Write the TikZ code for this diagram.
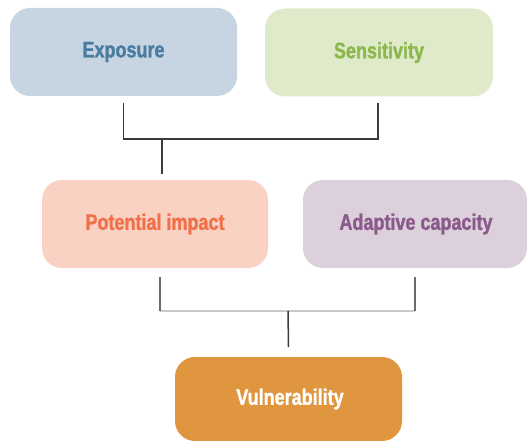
\documentclass[tikz,border=0pt]{standalone}
\usepackage{fontspec}
\setmainfont{Liberation Sans}[FakeStretch=0.8, FakeBold=1.2]
\definecolor{expfill}{HTML}{C6D5E1}
\definecolor{exptext}{HTML}{4A7BA0}
\definecolor{senfill}{HTML}{DFEACB}
\definecolor{sentext}{HTML}{8BB84A}
\definecolor{potfill}{HTML}{F9D2C4}
\definecolor{pottext}{HTML}{F0704A}
\definecolor{adafill}{HTML}{DCD0DC}
\definecolor{adatext}{HTML}{8A5A8A}
\definecolor{vulfill}{HTML}{E0963F}
\definecolor{linedark}{HTML}{3A3A3A}
\definecolor{linemid}{HTML}{6A6A6A}
\definecolor{linelight}{HTML}{C8C8C8}
\tikzset{
  box/.style={rounded corners=20pt, minimum width=#1, minimum height=88pt, inner sep=0pt,
    font=\fontsize{22.5}{26}\selectfont\bfseries},
  conn/.style={line width=1.5pt, color=linedark},
}
\begin{document}
\begin{tikzpicture}[x=1pt,y=-1pt]
\useasboundingbox (0,0) rectangle (527,441);
\node[box=227pt, fill=expfill, text=exptext] (exp) at (123.5,52) {Exposure};
\node[box=228pt, fill=senfill, text=sentext] (sen) at (379,52.5) {Sensitivity};
\node[box=226pt, fill=potfill, text=pottext] (pot) at (155,224) {Potential impact};
\node[box=224pt, fill=adafill, text=adatext] (ada) at (415,224) {\hspace*{2pt}Adaptive capacity};
\node[box=227pt, minimum height=84pt, fill=vulfill, text=white] (vul) at (288.5,399) {\hspace*{3pt}Vulnerability};
% top connector
\coordinate (j1) at (162,139);
\coordinate (j2) at (288,311);
\draw[conn] ([yshift=-7pt]exp.south) -- (exp.south |- j1) -- (378,139) -- (378,103);
\draw[conn] (j1) -- (162,174);
% bottom connector
\draw[line width=1.5pt, linelight] (160,311) -- (415,311);
\draw[line width=1.5pt, linemid] (160,277) -- (160,311);
\draw[line width=1.5pt, linemid] (415,277) -- (415,311);
\draw[conn] (j2) -- (vul.north |- 0,347);
\end{tikzpicture}
\end{document}
